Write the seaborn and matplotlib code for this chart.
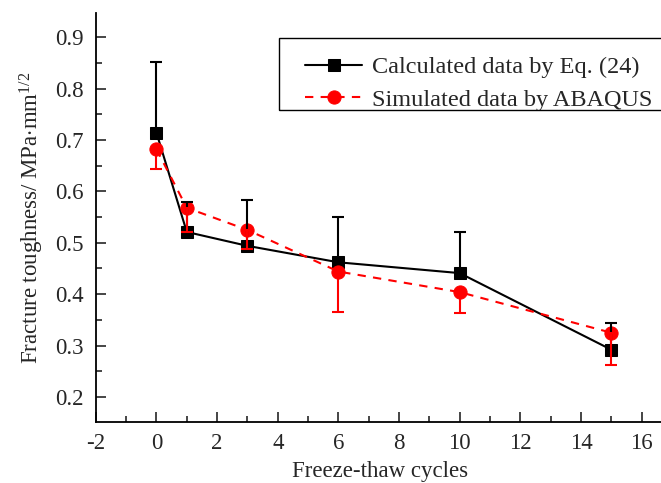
import numpy as np
import pandas as pd
import matplotlib
matplotlib.use("Agg")
import matplotlib.pyplot as plt
import seaborn as sns
from matplotlib.ticker import MultipleLocator
from matplotlib.patches import Rectangle

cycles = [0, 1, 3, 6, 10, 15]
calc_vals = [0.714, 0.521, 0.494, 0.462, 0.441, 0.292]
calc_err_up = [0.137, 0.058, 0.089, 0.088, 0.080, 0.052]
sim_vals = [0.682, 0.568, 0.525, 0.444, 0.404, 0.325]
sim_err_down = [0.038, 0.047, 0.038, 0.079, 0.041, 0.063]
labels = ["Calculated data by Eq. (24)", "Simulated data by ABAQUS"]

sns.set_style("ticks")
plt.rcParams['font.family'] = ['Liberation Serif', 'DejaVu Serif']
plt.rcParams['mathtext.fontset'] = 'custom'
plt.rcParams['mathtext.rm'] = 'Liberation Serif'
plt.rcParams['mathtext.it'] = 'Liberation Serif:italic'
plt.rcParams['axes.unicode_minus'] = False

df = pd.DataFrame({
    "x": cycles * 2,
    "y": calc_vals + sim_vals,
    "series": [labels[0]] * len(cycles) + [labels[1]] * len(cycles),
})

fig = plt.figure(figsize=(6.61, 4.83), dpi=100)
ax = fig.add_axes([0.145, 0.126, 0.86, 0.847])

sns.lineplot(data=df[df.series == labels[0]], x="x", y="y", ax=ax, color="black",
             marker="s", markersize=8.5, markeredgecolor="black", linewidth=1.5,
             label=labels[0], zorder=3)
sns.lineplot(data=df[df.series == labels[1]], x="x", y="y", ax=ax, color="red",
             marker="o", markersize=9.5, markeredgecolor="red", linewidth=1.5,
             linestyle=(0, (4, 3.5)), label=labels[1], zorder=4)

ax.errorbar(cycles, calc_vals, yerr=[np.zeros(len(cycles)), calc_err_up], fmt="none",
            ecolor="black", elinewidth=1.5, capsize=4, capthick=1.5, zorder=5)
ax.errorbar(cycles, sim_vals, yerr=[sim_err_down, np.zeros(len(cycles))], fmt="none",
            ecolor="red", elinewidth=1.5, capsize=4, capthick=1.5, zorder=5)

ax.set_xlim(-2, 16.75)
ax.set_ylim(0.151, 0.947)
ax.xaxis.set_major_locator(MultipleLocator(2))
ax.xaxis.set_minor_locator(MultipleLocator(1))
ax.yaxis.set_major_locator(MultipleLocator(0.1))
ax.yaxis.set_minor_locator(MultipleLocator(0.05))
ax.yaxis.set_major_formatter(matplotlib.ticker.FormatStrFormatter('%.1f'))
ax.tick_params(which="both", direction="in", labelsize=16.5, width=1.2)
ax.tick_params(which="major", length=7)
ax.tick_params(which="minor", length=4)
ax.tick_params(axis="y", pad=9)
ax.tick_params(axis="x", pad=8)
for s in ["top", "right"]:
    ax.spines[s].set_visible(False)
for s in ["left", "bottom"]:
    ax.spines[s].set_linewidth(1.3)
    ax.spines[s].set_color("black")

ax.set_xlabel("Freeze-thaw cycles", fontsize=16.5, labelpad=5)
ax.set_ylabel(r"Fracture toughness/ MPa$\cdot$mm$^{1/2}$", fontsize=16.5, labelpad=6)

leg = ax.legend(loc="upper left", bbox_to_anchor=(0.368, 0.894), borderaxespad=0,
                fontsize=17.5, frameon=False, handlelength=2.35, handletextpad=0.42,
                borderpad=0, labelspacing=0.42)

fig.add_artist(Rectangle((279 / 661, 1 - 110 / 483), (670 - 279) / 661, 72 / 483,
                         transform=fig.transFigure, fill=False, edgecolor="black",
                         linewidth=1.0, zorder=6))

fig.savefig("out.png", dpi=100)
